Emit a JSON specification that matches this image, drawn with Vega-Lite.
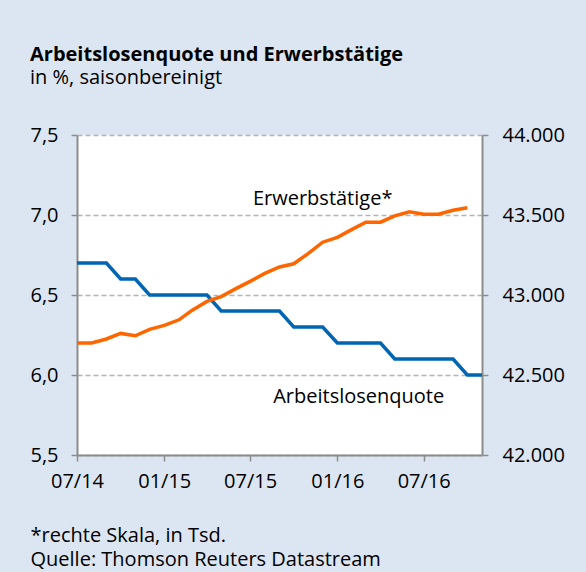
{
  "$schema": "https://vega.github.io/schema/vega-lite/v6.json",
  "width": 405,
  "height": 320,
  "autosize": "none",
  "padding": {"left": 77, "top": 135, "right": 104, "bottom": 117},
  "background": "#dce6f2",
  "title": {
    "text": "Arbeitslosenquote und Erwerbstätige",
    "subtitle": "in %, saisonbereinigt",
    "anchor": "start",
    "frame": "group",
    "dx": -47,
    "offset": 37,
    "fontSize": 20,
    "fontWeight": "bold",
    "color": "#000000",
    "subtitleFontSize": 20,
    "subtitleColor": "#000000",
    "subtitlePadding": 3
  },
  "data": {
    "values": [
      {"month": "2014-07-01", "alq": 6.7, "et": 42700},
      {"month": "2014-08-01", "alq": 6.7, "et": 42700},
      {"month": "2014-09-01", "alq": 6.7, "et": 42725},
      {"month": "2014-10-01", "alq": 6.6, "et": 42760},
      {"month": "2014-11-01", "alq": 6.6, "et": 42745},
      {"month": "2014-12-01", "alq": 6.5, "et": 42785},
      {"month": "2015-01-01", "alq": 6.5, "et": 42810},
      {"month": "2015-02-01", "alq": 6.5, "et": 42845},
      {"month": "2015-03-01", "alq": 6.5, "et": 42905},
      {"month": "2015-04-01", "alq": 6.5, "et": 42960},
      {"month": "2015-05-01", "alq": 6.4, "et": 42990},
      {"month": "2015-06-01", "alq": 6.4, "et": 43040},
      {"month": "2015-07-01", "alq": 6.4, "et": 43085},
      {"month": "2015-08-01", "alq": 6.4, "et": 43135},
      {"month": "2015-09-01", "alq": 6.4, "et": 43175},
      {"month": "2015-10-01", "alq": 6.3, "et": 43195},
      {"month": "2015-11-01", "alq": 6.3, "et": 43260},
      {"month": "2015-12-01", "alq": 6.3, "et": 43330},
      {"month": "2016-01-01", "alq": 6.2, "et": 43360},
      {"month": "2016-02-01", "alq": 6.2, "et": 43410},
      {"month": "2016-03-01", "alq": 6.2, "et": 43455},
      {"month": "2016-04-01", "alq": 6.2, "et": 43455},
      {"month": "2016-05-01", "alq": 6.1, "et": 43495},
      {"month": "2016-06-01", "alq": 6.1, "et": 43520},
      {"month": "2016-07-01", "alq": 6.1, "et": 43505},
      {"month": "2016-08-01", "alq": 6.1, "et": 43505},
      {"month": "2016-09-01", "alq": 6.1, "et": 43530},
      {"month": "2016-10-01", "alq": 6.0, "et": 43545},
      {"month": "2016-11-01", "alq": 6.0, "et": null}
    ]
  },
  "layer": [
    {
      "layer": [
        {
          "mark": {"type": "line", "color": "#0066b3", "strokeWidth": 3.5},
          "encoding": {
            "x": {
              "field": "month",
              "type": "temporal",
              "scale": {
                "type": "utc",
                "domain": [
                  {"year": 2014, "month": 7, "date": 1, "utc": true},
                  {"year": 2016, "month": 11, "date": 1, "utc": true}
                ]
              },
              "axis": {
                "values": [
                  {"year": 2014, "month": 7, "date": 1, "utc": true},
                  {"year": 2015, "month": 1, "date": 1, "utc": true},
                  {"year": 2015, "month": 7, "date": 1, "utc": true},
                  {"year": 2016, "month": 1, "date": 1, "utc": true},
                  {"year": 2016, "month": 7, "date": 1, "utc": true}
                ],
                "format": "%m/%y",
                "grid": false,
                "tickSize": 6,
                "labelPadding": 10,
                "labelFontSize": 20,
                "labelColor": "#000000",
                "labelFlush": false,
                "title": ["*rechte Skala, in Tsd.", "Quelle: Thomson Reuters Datastream"],
                "titleFontSize": 20,
                "titleFontWeight": "normal",
                "titleColor": "#000000",
                "titleAnchor": "start",
                "titleAlign": "left",
                "titleBaseline": "alphabetic",
                "titleLineHeight": 24,
                "titleX": -47,
                "titleY": 86
              }
            },
            "y": {
              "field": "alq",
              "type": "quantitative",
              "scale": {"domain": [5.5, 7.5], "nice": false, "zero": false},
              "axis": {
                "orient": "left",
                "values": [5.5, 6.0, 6.5, 7.0, 7.5],
                "format": ".1f",
                "grid": true,
                "gridDash": [5, 3],
                "gridColor": "#b4b4b4",
                "gridWidth": 1.5,
                "tickSize": 6,
                "labelPadding": 13,
                "labelFontSize": 20,
                "labelColor": "#000000",
                "title": null
              }
            }
          }
        },
        {
          "data": {"values": [{"label": "Arbeitslosenquote"}]},
          "mark": {"type": "text", "fontSize": 20, "color": "#000000", "align": "center", "baseline": "middle"},
          "encoding": {
            "x": {"datum": {"year": 2016, "month": 2, "date": 15, "utc": true}, "type": "temporal"},
            "y": {"datum": 5.86, "type": "quantitative"},
            "text": {"field": "label"}
          }
        }
      ]
    },
    {
      "layer": [
        {
          "mark": {"type": "line", "color": "#ff6600", "strokeWidth": 3.5},
          "encoding": {
            "x": {"field": "month", "type": "temporal"},
            "y": {
              "field": "et",
              "type": "quantitative",
              "scale": {"domain": [42000, 44000], "nice": false, "zero": false},
              "axis": {
                "orient": "right",
                "values": [42000, 42500, 43000, 43500, 44000],
                "format": ",.0f",
                "grid": false,
                "tickSize": 6,
                "labelPadding": 14,
                "labelFontSize": 20,
                "labelColor": "#000000",
                "title": null
              }
            }
          }
        },
        {
          "data": {"values": [{"label": "Erwerbstätige*"}]},
          "mark": {"type": "text", "fontSize": 20, "color": "#000000", "align": "center", "baseline": "middle"},
          "encoding": {
            "x": {"datum": {"year": 2015, "month": 12, "date": 1, "utc": true}, "type": "temporal"},
            "y": {"datum": 43600, "type": "quantitative"},
            "text": {"field": "label"}
          }
        }
      ]
    }
  ],
  "resolve": {"scale": {"y": "independent"}},
  "config": {
    "font": "Open Sans",
    "locale": {
      "number": {"decimal": ",", "thousands": ".", "grouping": [3], "currency": ["", " €"]}
    },
    "view": {"fill": "#ffffff", "stroke": null},
    "axis": {
      "domainColor": "#8c8c8c",
      "domainWidth": 2,
      "tickColor": "#8c8c8c",
      "tickWidth": 1.5
    }
  }
}
